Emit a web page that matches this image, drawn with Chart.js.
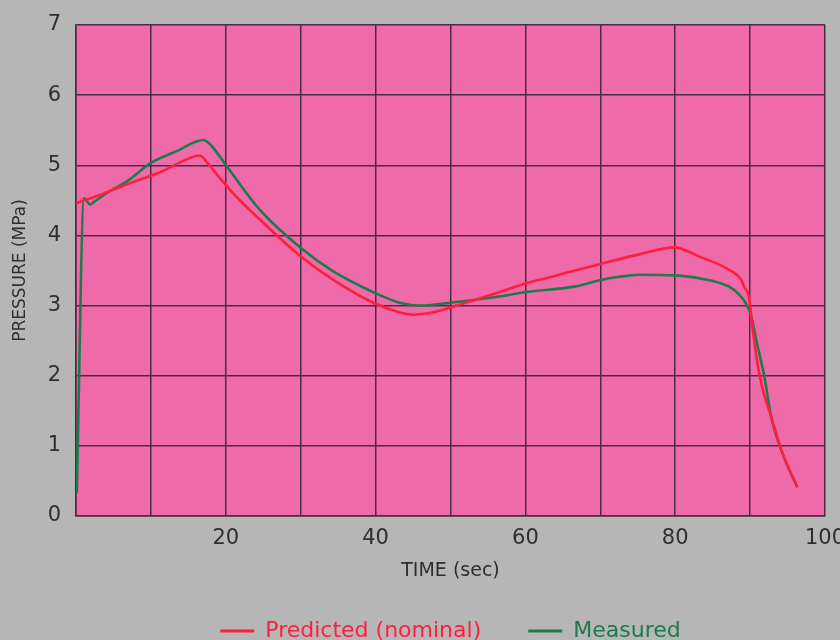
<!DOCTYPE html>
<html>
<head>
<meta charset="utf-8">
<script src="https://cdn.jsdelivr.net/npm/chart.js@4"></script>
<style>
  html, body { margin: 0; padding: 0; background: #b6b6b6; }
  #wrap { width: 840px; height: 640px; }
</style>
</head>
<body>
<div id="wrap"><canvas id="c" width="840" height="640"></canvas></div>
<script>
// ---- data ----
const seriesNames = ["Predicted (nominal)", "Measured"];
const xTickLabels = [20, 40, 60, 80, 100];
const yTickLabels = [0, 1, 2, 3, 4, 5, 6, 7];

const predTime = [0, 3, 6.8, 11.2, 15.6, 16.5, 17.5, 18.8, 21, 24.5, 29.9, 34.3, 39.7, 43, 45, 47.5, 49.9, 56.5, 59.9, 64.5, 69.9, 75.2, 79.9, 83.2, 87.2, 88.8, 89.2, 89.9, 90.2, 90.9, 91.6, 92.8, 94.3, 96.3];
const predPressure = [4.46, 4.57, 4.73, 4.9, 5.12, 5.14, 5.04, 4.87, 4.6, 4.23, 3.71, 3.37, 3.04, 2.91, 2.87, 2.9, 2.97, 3.19, 3.31, 3.44, 3.59, 3.73, 3.83, 3.7, 3.51, 3.37, 3.27, 3.09, 2.8, 2.23, 1.84, 1.42, 0.9, 0.41];

const measTime = [0.1, 1.07, 1.9, 2.3, 4.5, 6.8, 10.1, 13.4, 17, 17.9, 20.1, 24.5, 29.9, 34.3, 39.7, 43.2, 45.9, 49.9, 56.5, 59.9, 66.5, 69.9, 72.5, 75.2, 79.9, 83.2, 87.2, 88.5, 89.4, 90.1, 90.9, 91.9, 92.8, 94.3, 96.3];
const measPressure = [0.33, 4.53, 4.44, 4.47, 4.63, 4.77, 5.04, 5.2, 5.36, 5.3, 4.99, 4.37, 3.83, 3.49, 3.19, 3.04, 3.0, 3.04, 3.13, 3.19, 3.27, 3.36, 3.41, 3.44, 3.43, 3.39, 3.27, 3.16, 3.04, 2.87, 2.47, 1.99, 1.42, 0.9, 0.41];

// ---- styles ----
const RED = '#ff1f3d';
const GREEN = '#1d7a4c';
const GRID = '#4a2c40';
const PINK = '#ef6aa9';
const GRAY = '#b6b6b6';
const TEXT = '#2f2f2f';

const toPoints = (xs, ys) => xs.map((x, i) => ({ x: x, y: ys[i] }));

const bgPlugin = {
  id: 'bg',
  beforeDraw(chart) {
    const { ctx, chartArea: a } = chart;
    ctx.save();
    ctx.fillStyle = GRAY;
    ctx.fillRect(0, 0, chart.width, chart.height);
    ctx.fillStyle = PINK;
    ctx.fillRect(a.left, a.top, a.right - a.left, a.bottom - a.top);
    ctx.restore();
  }
};

new Chart(document.getElementById('c'), {
  type: 'line',
  data: {
    datasets: [
      {
        label: seriesNames[0],
        data: toPoints(predTime, predPressure),
        borderColor: RED,
        borderWidth: 2.6,
        pointRadius: 0,
        cubicInterpolationMode: 'monotone',
        fill: false
      },
      {
        label: seriesNames[1],
        data: toPoints(measTime, measPressure),
        borderColor: GREEN,
        borderWidth: 2.6,
        pointRadius: 0,
        cubicInterpolationMode: 'monotone',
        fill: false
      }
    ]
  },
  options: {
    responsive: false,
    animation: false,
    devicePixelRatio: 1,
    layout: { padding: { top: 25, right: 15, bottom: -12, left: 0 } },
    plugins: {
      tooltip: { enabled: false },
      legend: {
        position: 'bottom',
        fullSize: false,
        labels: {
          font: { family: 'DejaVu Sans', size: 22 },
          boxWidth: 34,
          boxHeight: 3,
          padding: 47,
          generateLabels(chart) {
            return chart.data.datasets.map((ds, i) => ({
              text: ds.label,
              fillStyle: ds.borderColor,
              strokeStyle: ds.borderColor,
              lineWidth: 0,
              fontColor: ds.borderColor,
              hidden: false,
              datasetIndex: i
            }));
          }
        }
      }
    },
    scales: {
      x: {
        type: 'linear',
        min: 0,
        max: 100,
        ticks: {
          stepSize: 10,
          padding: 10,
          color: TEXT,
          font: { family: 'DejaVu Sans', size: 21 },
          maxRotation: 0,
          autoSkip: false,
          callback: (v) => xTickLabels.includes(v) ? String(v) : ''
        },
        grid: { color: GRID, lineWidth: 1.5, drawTicks: false },
        border: { color: GRID, width: 1.5 },
        title: {
          display: true,
          text: 'TIME (sec)',
          color: TEXT,
          font: { family: 'DejaVu Sans', size: 19 },
          padding: { top: 0, bottom: -9 }
        },
        afterFit(s) { s.height = 57; s.paddingLeft = 0; s.paddingRight = 0; }
      },
      y: {
        min: 0,
        max: 7,
        ticks: {
          stepSize: 1,
          padding: 15,
          color: TEXT,
          font: { family: 'DejaVu Sans', size: 21 },
          callback: (v) => yTickLabels.includes(v) ? String(v) : ''
        },
        grid: { color: GRID, lineWidth: 1.5, drawTicks: false },
        border: { color: GRID, width: 1.5 },
        title: {
          display: true,
          text: 'PRESSURE (MPa)',
          color: TEXT,
          font: { family: 'DejaVu Sans', size: 17 },
          padding: { top: 10, bottom: 0 }
        },
        afterFit(s) { s.width = 76; s.paddingTop = 0; s.paddingBottom = 0; }
      }
    }
  },
  plugins: [bgPlugin]
});
</script>
</body>
</html>
